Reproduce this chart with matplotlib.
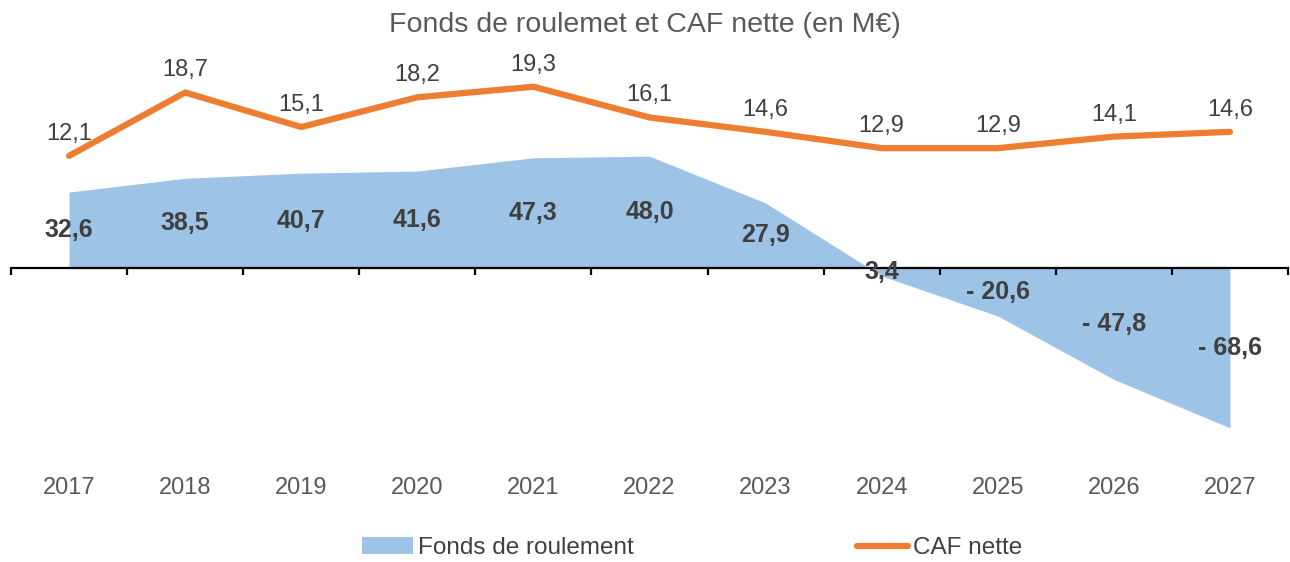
import matplotlib
matplotlib.use("Agg")
import matplotlib.pyplot as plt
from matplotlib.patches import Patch
from matplotlib.lines import Line2D
import matplotlib.transforms as mtransforms

years = ["2017", "2018", "2019", "2020", "2021", "2022", "2023", "2024", "2025", "2026", "2027"]
fonds_roulement = [32.6, 38.5, 40.7, 41.6, 47.3, 48.0, 27.9, -3.4, -20.6, -47.8, -68.6]
fonds_labels = ["32,6", "38,5", "40,7", "41,6", "47,3", "48,0", "27,9", "3,4", "- 20,6", "- 47,8", "- 68,6"]
caf_nette = [12.1, 18.7, 15.1, 18.2, 19.3, 16.1, 14.6, 12.9, 12.9, 14.1, 14.6]
caf_labels = ["12,1", "18,7", "15,1", "18,2", "19,3", "16,1", "14,6", "12,9", "12,9", "14,1", "14,6"]

plt.rcParams['font.family'] = ['Liberation Sans', 'DejaVu Sans']

W, H = 1290, 562
fig = plt.figure(figsize=(W / 100, H / 100), dpi=100)
ax_left, ax_right = 11 / W, 1288 / W
ax_top, ax_bot = 60 / H, 450 / H
ax = fig.add_axes([ax_left, 1 - ax_bot, ax_right - ax_left, ax_bot - ax_top])
ax2 = ax.twinx()

x = list(range(len(years)))
blue = "#9DC3E6"
orange = "#ED7D31"

ax.fill_between(x, 0, fonds_roulement, color=blue, linewidth=0, zorder=1)
ax.set_xlim(-0.5, len(years) - 0.5)
zero_px = 268
ax.set_ylim(-(450 - zero_px) / 2.33, (zero_px - 60) / 2.33)

for s in ["top", "right", "left"]:
    ax.spines[s].set_visible(False)
ax.spines["bottom"].set_position(("data", 0))
ax.spines["bottom"].set_linewidth(1.6)
ax.spines["bottom"].set_zorder(3)
ax.set_xticks([i - 0.5 for i in range(len(years) + 1)])
ax.set_xticklabels([])
ax.tick_params(axis="x", direction="out", length=5, width=1.6, color="black")
ax.set_yticks([])

for i, (v, lab) in enumerate(zip(fonds_roulement, fonds_labels)):
    ax.text(i, v / 2, lab, ha="center", va="center", fontsize=18, fontweight="bold",
            color="#404040", zorder=5)

trans = mtransforms.blended_transform_factory(ax.transData, ax.transAxes)
for i, y in enumerate(years):
    ax.text(i, -(488 - 450) / 390, y, transform=trans, ha="center", va="center",
            fontsize=17, color="#595959")

caf_zero = 272
scale2 = 9.6
ax2.plot(x, caf_nette, color=orange, linewidth=4.5, solid_capstyle="round",
         solid_joinstyle="round", zorder=4)
ax2.set_ylim(-(450 - caf_zero) / scale2, (caf_zero - 60) / scale2)
ax2.set_yticks([])
for s in ax2.spines.values():
    s.set_visible(False)
for i, (v, lab) in enumerate(zip(caf_nette, caf_labels)):
    ax2.annotate(lab, (i, v), xytext=(0, 8), textcoords="offset points",
                 ha="center", va="bottom", fontsize=17, color="#404040")

fig.text(0.5, 1 - 25 / H, "Fonds de roulemet et CAF nette (en M€)", ha="center", va="center",
         fontsize=20.5, color="#595959")

handles = [Patch(facecolor=blue, edgecolor="none"),
           Line2D([0], [0], color=orange, linewidth=4.5, solid_capstyle="round")]
fig.legend(handles, ["Fonds de roulement", "CAF nette"], loc="center",
           bbox_to_anchor=(692 / W, (H - 548) / H), ncol=2, frameon=False, fontsize=17.5,
           handlelength=2.1, handleheight=0.7, handletextpad=0.2, columnspacing=9.2,
           labelcolor="#404040")

fig.savefig("out.png", dpi=100)
